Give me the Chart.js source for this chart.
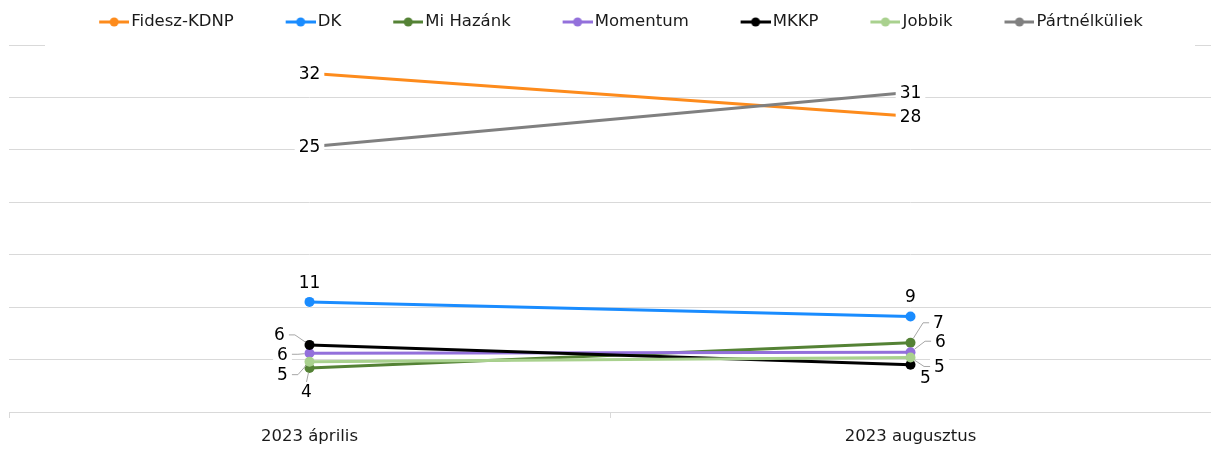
<!DOCTYPE html>
<html>
<head>
<meta charset="utf-8">
<title>Pártpreferencia</title>
<script src="https://cdn.jsdelivr.net/npm/chart.js@4/dist/chart.umd.min.js"></script>
<style>
    html, body { margin: 0; padding: 0; background: #fff; overflow: hidden; }
    #wrap { width: 1211px; height: 449px; }
</style>
</head>
<body>
<div id="wrap"><canvas id="myCanvas"></canvas></div>
<script>
'use strict';

// data
var periods = ['2023 április', '2023 augusztus'];
var parties = ['Fidesz-KDNP', 'DK', 'Mi Hazánk', 'Momentum', 'MKKP', 'Jobbik', 'Pártnélküliek'];
var fidesz = [32.3, 28.2];
var dk = [10.5, 9.1];
var miHazank = [4.2, 6.6];
var momentum = [5.6, 5.7];
var mkkp = [6.4, 4.5];
var jobbik = [4.8, 5.2];
var partnelkuliek = [25.3, 30.5];
var yMin = 0, yMax = 35, yStep = 5;

// styles
var series = [fidesz, dk, miHazank, momentum, mkkp, jobbik, partnelkuliek];
var colors = ['#fd8b1c', '#1a8cff', '#548235', '#9370db', '#000000', '#a9d18e', '#808080'];
var radii = [0, 5, 5, 5, 5, 5, 0];
// label offset from its point [dx, dy, leader line]
var labelPos = [
    [[0, 0], [0, 0]],
    [[0, -19], [0, -20]],
    [[-3, 24, 1], [28, -20, 1]],
    [[-27, 1, 1], [30, -11, 1]],
    [[-30, -10, 1], [15, 13]],
    [[-27, 13, 1], [29, 9, 1]],
    [[0, 0], [0, 0]]
];
var fontFamily = "'DejaVu Sans', sans-serif";

Chart.defaults.font.family = fontFamily;
Chart.defaults.color = '#1a1a1a';

// legend marker: line with a dot
function legendMarker(color) {
    var c = document.createElement('canvas');
    c.width = 56;
    c.height = 12;
    var g = c.getContext('2d');
    g.strokeStyle = color;
    g.lineWidth = 3;
    g.beginPath();
    g.moveTo(26, 6);
    g.lineTo(56, 6);
    g.stroke();
    g.fillStyle = color;
    g.beginPath();
    g.arc(41, 6, 4.5, 0, Math.PI * 2);
    g.fill();
    return c;
}
var markers = colors.map(legendMarker);

function drawLeader(ctx, px, py, lx, ly, hw) {
    ctx.beginPath();
    if (Math.abs(lx - px) < 8) {
        var ey = ly + (ly > py ? -10 : 10);
        var d = Math.hypot(px - lx, py - ey), k = (d - 5) / d;
        ctx.moveTo(lx, ey);
        ctx.lineTo(lx + (px - lx) * k, ey + (py - ey) * k);
    } else {
        var side = lx < px ? 1 : -1;
        var ex = lx + side * (hw + 3), bx = lx + side * (hw + 10);
        var d2 = Math.hypot(bx - px, ly - py), k2 = 5 / d2;
        ctx.moveTo(px + (bx - px) * k2, py + (ly - py) * k2);
        ctx.lineTo(bx, ly);
        ctx.lineTo(ex, ly);
    }
    ctx.stroke();
}

// value labels with white background
var valueLabels = {
    id: 'valueLabels',
    afterDatasetsDraw: function (chart) {
        var ctx = chart.ctx;
        ctx.save();
        ctx.font = '17px ' + fontFamily;
        ctx.textAlign = 'center';
        ctx.textBaseline = 'middle';
        ctx.strokeStyle = '#a6a6a6';
        ctx.lineWidth = 1;
        var items = [];
        chart.data.datasets.forEach(function (ds, i) {
            chart.getDatasetMeta(i).data.forEach(function (pt, j) {
                var pos = labelPos[i][j];
                var text = String(Math.round(ds.data[j]));
                var w = ctx.measureText(text).width;
                var lx = pt.x + pos[0], ly = pt.y + pos[1];
                if (pos[2]) drawLeader(ctx, pt.x, pt.y, lx, ly, w / 2);
                items.push([text, lx, ly, w]);
            });
        });
        items.forEach(function (it) {
            ctx.fillStyle = '#fff';
            ctx.fillRect(it[1] - it[3] / 2 - 4, it[2] - 9, it[3] + 8, 18);
            ctx.fillStyle = '#000';
            ctx.fillText(it[0], it[1], it[2] + 1);
        });
        ctx.restore();
    }
};

// legend background hides the top gridline
var legendBand = {
    id: 'legendBand',
    beforeDatasetsDraw: function (chart) {
        var ctx = chart.ctx, top = chart.chartArea.top;
        ctx.save();
        ctx.fillStyle = '#fff';
        ctx.fillRect(45, top - 2, 1150, 4);
        ctx.restore();
    }
};

var ctx = document.getElementById('myCanvas').getContext('2d');
var myLineChart = new Chart(ctx, {
    type: 'line',
    data: {
        labels: periods,
        datasets: parties.map(function (name, i) {
            return {
                label: name,
                data: series[i],
                borderColor: colors[i],
                backgroundColor: colors[i],
                borderWidth: 3,
                pointRadius: radii[i],
                pointHoverRadius: radii[i],
                pointBorderWidth: 0,
                order: parties.length - i
            };
        })
    },
    options: {
        responsive: true,
        maintainAspectRatio: false,
        animation: false,
        layout: {
            autoPadding: false,
            padding: { top: -18.25, left: 9, right: -2, bottom: 0 }
        },
        plugins: {
            tooltip: { enabled: false },
            title: {
                display: true,
                text: '',
                weight: 500,
                font: { size: 0 },
                padding: { top: 4.75, bottom: 0 }
            },
            legend: {
                position: 'top',
                labels: {
                    usePointStyle: true,
                    pointStyleWidth: 43.75,
                    padding: 32,
                    color: '#1a1a1a',
                    font: { size: 16.5 },
                    generateLabels: function (chart) {
                        var items = Chart.defaults.plugins.legend.labels.generateLabels(chart);
                        items.forEach(function (item) {
                            item.pointStyle = markers[item.datasetIndex];
                        });
                        return items;
                    },
                    sort: function (a, b) {
                        return a.datasetIndex - b.datasetIndex;
                    }
                }
            }
        },
        scales: {
            x: {
                offset: true,
                afterFit: function (scale) {
                    scale.height = 37;
                },
                grid: {
                    offset: true,
                    drawOnChartArea: false,
                    drawTicks: true,
                    tickLength: 6,
                    color: '#d9d9d9'
                },
                border: { color: '#d9d9d9' },
                ticks: {
                    padding: 9,
                    color: '#1a1a1a',
                    font: { size: 16.5 }
                }
            },
            y: {
                min: yMin,
                max: yMax,
                ticks: { stepSize: yStep, display: false },
                grid: { color: '#d9d9d9', drawTicks: false },
                border: { display: false }
            }
        }
    },
    plugins: [legendBand, valueLabels]
});
</script>
</body>
</html>
